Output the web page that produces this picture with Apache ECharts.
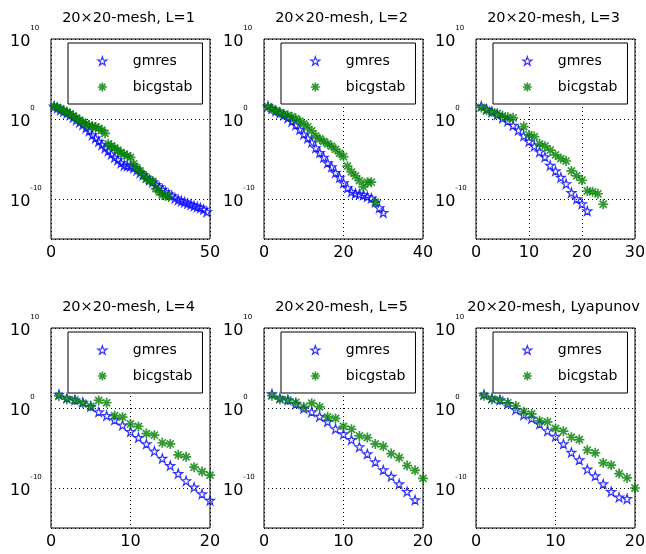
<!DOCTYPE html>
<html><head><meta charset="utf-8">
<script src="https://cdn.jsdelivr.net/npm/echarts@6/dist/echarts.min.js"></script>
<style>html,body{margin:0;padding:0;background:#fff}#c{width:646px;height:554px}</style>
</head><body><div id="c"></div>
<script>
// ---------- data ----------
const titles = ['20×20-mesh, L=1', '20×20-mesh, L=2', '20×20-mesh, L=3',
                '20×20-mesh, L=4', '20×20-mesh, L=5', '20×20-mesh, Lyapunov'];
const xMax = [50, 40, 30, 20, 20, 20];
const xTickStep = [50, 20, 10, 10, 10, 10];
const seriesNames = ['gmres', 'bicgstab'];

const gmresX_L1 = [1,2,3,4,5,6,7,8,9,10,11,12,13,14,15,16,17,18,19,20,21,22,23,24,25,26,27,28,29,30,31,32,33,34,35,36,37,38,39,40,41,42,43,44,45,46,47,48,49];
const gmresY_L1 = [4e1,2.5e1,1.4e1,8.9,5.6,3.2,1.6,7.9e-1,4e-1,2e-1,7.9e-2,3.2e-2,1e-2,4e-3,1.6e-3,6.3e-4,2.5e-4,1e-4,4e-5,1.6e-5,7.9e-6,3.2e-6,1.6e-6,1.4e-6,1.26e-6,7.9e-7,4e-7,2e-7,1e-7,5e-8,2.5e-8,1.26e-8,6.3e-9,3.2e-9,1.6e-9,7.9e-10,4e-10,2.5e-10,1.26e-10,7.9e-11,5.6e-11,4e-11,2.8e-11,2e-11,1.4e-11,1e-11,7.9e-12,5e-12,2.5e-12];
const bicgX_L1 = [1,2,3,4,5,6,7,8,9,10,11,12,13,14,15,16,17,18,19,20,21,22,23,24,25,26,27,28,29,30,31,32,33,34,35,36,37];
const bicgY_L1 = [4e1,2.8e1,1.8e1,1.1e1,7.1,4.5,2.5,1.4,7.1e-1,4e-1,2.5e-1,1.6e-1,1.26e-1,1e-1,6.3e-2,4e-2,1.6e-2,7.9e-4,4.5e-4,2.5e-4,1.26e-4,6.3e-5,4e-5,2.5e-5,1.6e-5,2.5e-6,7.9e-7,3.2e-7,1e-7,3.2e-8,2e-8,1.6e-8,2e-9,7.9e-10,3.2e-10,2.5e-10,2e-10];

const gmresX_L2 = [1,2,3,4,5,6,7,8,9,10,11,12,13,14,15,16,17,18,19,20,21,22,23,24,25,26,27,28,29,30];
const gmresY_L2 = [4e1,2e1,1e1,5.6,3.2,1.4,5e-1,1.8e-1,5e-2,1.26e-2,4e-3,1.26e-3,2.5e-4,6.3e-5,1.6e-5,3.2e-6,1e-6,2e-7,5e-8,1e-8,2.5e-9,7.9e-10,5e-10,4e-10,3.2e-10,2e-10,1.26e-10,4e-11,7.9e-12,2e-12];
const bicgX_L2 = [1,2,3,4,5,6,7,8,9,10,11,12,13,14,15,16,17,18,19,20,21,22,23,24,25,26,27,28];
const bicgY_L2 = [3.2e1,1.8e1,1e1,6.3,4,2.8,1.8,1.12,5.6e-1,2.5e-1,1e-1,3.2e-2,7.9e-3,3.2e-3,1.6e-3,7.9e-4,4e-4,1.6e-4,5e-5,2e-5,1.26e-6,2.5e-7,7.9e-8,2e-8,3.2e-9,1.26e-8,1.26e-8,4e-11];

const gmresX_L3 = [1,2,3,4,5,6,7,8,9,10,11,12,13,14,15,16,17,18,19,20,21];
const gmresY_L3 = [4e1,1.6e1,7.9,3.5,1.26,5.6e-1,1.6e-1,4e-2,7.9e-3,1.6e-3,4e-4,7.9e-5,1.8e-5,1.6e-6,3.2e-7,5e-8,7.9e-9,6.3e-10,1e-10,2.5e-11,3.2e-12];
const bicgX_L3 = [1,2,3,4,5,6,7,9,10,11,12,13,14,15,16,17,18,19,20,21,22,23,24];
const bicgY_L3 = [2.8e1,1.26e1,7.9,5,2.5,1.6,1.4,1.12e-1,1e-2,6.3e-3,7.9e-4,4e-4,1.26e-4,3.2e-5,1.12e-5,5.6e-6,3.2e-7,7.9e-8,2.2e-8,1e-9,7.9e-10,4.5e-10,2.2e-11];

const gmresX_L4 = [1,2,3,4,5,6,7,8,9,10,11,12,13,14,15,16,17,18,19,20];
const gmresY_L4 = [5e1,1.8e1,1e1,5,1.6,3.2e-1,1.12e-1,3.2e-2,7.1e-3,1.12e-3,2e-4,3.2e-5,4e-6,5e-7,6.3e-8,6.3e-9,7.9e-10,1.26e-10,1.8e-11,2.8e-12];
const bicgX_L4 = [1,2,3,4,5,6,7,8,9,10,11,12,13,14,15,16,17,18,19,20];
const bicgY_L4 = [3.2e1,1.26e1,1e1,4,1.6,8.9,4.5,1.12e-1,7.1e-2,1e-2,5e-3,6.3e-4,4e-4,4.5e-5,3.2e-5,1.4e-6,7.9e-7,4e-8,1.12e-8,4e-9];

const gmresX_L5 = [1,2,3,4,5,6,7,8,9,10,11,12,13,14,15,16,17,18,19];
const gmresY_L5 = [5.6e1,1.8e1,1e1,3.2,8.9e-1,3.2e-1,8.9e-2,2e-2,2.5e-3,5.6e-4,1.12e-4,1.4e-5,1.8e-6,1.8e-7,1.8e-8,2.8e-9,3.2e-10,3.5e-11,3.2e-12];
const bicgX_L5 = [1,2,3,4,5,6,7,8,9,10,11,12,13,14,15,16,17,18,19,20];
const bicgY_L5 = [3.5e1,1.26e1,1e1,5,1.26,4,1.4,7.9e-2,5e-2,5e-3,2.2e-3,3.2e-4,2e-4,3.2e-5,1.6e-5,2e-6,6.3e-7,6.3e-8,1.6e-8,1.6e-9];

const gmresX_Ly = [1,2,3,4,5,6,7,8,9,10,11,12,13,14,15,16,17,18,19];
const gmresY_Ly = [5e1,1.8e1,1e1,3.5,6.3e-1,1.4e-1,5e-2,1e-2,1.4e-3,2.8e-4,3.2e-5,2.8e-6,3.2e-7,2.2e-8,3.2e-9,3.2e-10,3.5e-11,7.1e-12,4.5e-12];
const bicgX_Ly = [1,2,3,4,5,6,7,8,9,10,11,12,13,14,15,16,17,18,19,20];
const bicgY_Ly = [3.5e1,1.26e1,1e1,4.5,1.8,3.5e-1,1.8e-1,2.5e-2,1.8e-2,2.8e-3,1.26e-3,2.2e-4,1.12e-4,5.6e-6,2.5e-6,1.4e-7,7.1e-8,6.3e-9,1.8e-9,1e-10];

const gmresXs = [gmresX_L1, gmresX_L2, gmresX_L3, gmresX_L4, gmresX_L5, gmresX_Ly];
const gmresYs = [gmresY_L1, gmresY_L2, gmresY_L3, gmresY_L4, gmresY_L5, gmresY_Ly];
const bicgXs = [bicgX_L1, bicgX_L2, bicgX_L3, bicgX_L4, bicgX_L5, bicgX_Ly];
const bicgYs = [bicgY_L1, bicgY_L2, bicgY_L3, bicgY_L4, bicgY_L5, bicgY_Ly];

// ---------- layout / style ----------
const FONT = 'DejaVu Sans';
const gridLefts = [51, 264, 476];
const gridTops = [39, 328];
const GW = 159, GH = 200;
const starPath = 'path://M0,-10L2.245,-3.09L9.511,-3.09L3.633,1.18L5.878,8.09L0,3.82L-5.878,8.09L-3.633,1.18L-9.511,-3.09L-2.245,-3.09Z';
const astPath = 'path://M0,-10L0,10M-10,0L10,0M-7.07,-7.07L7.07,7.07M-7.07,7.07L7.07,-7.07';
const blueStyle = {color: 'rgba(255,255,255,0)', borderColor: '#0000ff', borderWidth: 1.2};
const greenStyle = {color: '#008000', borderColor: '#008000', borderWidth: 1.7};
const dotted = {color: '#000', width: 1, type: [1, 3]};

const grids = [], xAxes = [], yAxes = [], series = [], legends = [], graphics = [];
function zip(xs, ys) { return xs.map((x, i) => [x, ys[i]]); }

for (let k = 0; k < 6; k++) {
  const left = gridLefts[k % 3], top = gridTops[Math.floor(k / 3)];
  grids.push({left: left, top: top, width: GW, height: GH, show: true,
    borderColor: '#000', borderWidth: 1, backgroundColor: '#fff', containLabel: false, outerBoundsMode: 'none'});
  xAxes.push({type: 'value', gridIndex: k, min: 0, max: xMax[k], interval: xTickStep[k],
    axisLine: {show: false}, axisTick: {show: false},
    splitLine: {show: true, lineStyle: dotted},
    axisLabel: {fontFamily: FONT, fontSize: 16, color: '#000', margin: 6}});
  yAxes.push({type: 'log', logBase: 1e10, gridIndex: k, min: 1e-15, max: 1e10,
    axisLine: {show: false}, axisTick: {show: false},
    splitLine: {show: true, lineStyle: dotted},
    axisLabel: {align: 'left', margin: 41, padding: [6, 0, 0, 0],
      formatter: function (v) {
        const e = Math.round(Math.log10(v));
        if (e < -12) return '';
        return '{b|10}{e|' + e + '}';
      },
      rich: {
        b: {fontFamily: FONT, fontSize: 16, color: '#000', lineHeight: 16, verticalAlign: 'bottom'},
        e: {fontFamily: FONT, fontSize: 7, color: '#000', lineHeight: 8, padding: [0, 0, 18, 0], verticalAlign: 'bottom'}
      }}});
  series.push({type: 'scatter', name: seriesNames[0], xAxisIndex: k, yAxisIndex: k,
    symbol: starPath, symbolSize: 9, itemStyle: blueStyle, silent: true,
    data: zip(gmresXs[k], gmresYs[k])});
  series.push({type: 'scatter', name: seriesNames[1], xAxisIndex: k, yAxisIndex: k,
    symbol: astPath, symbolSize: 10, itemStyle: greenStyle, silent: true,
    data: zip(bicgXs[k], bicgYs[k])});
  legends.push({orient: 'vertical', align: 'left', left: left + 17, top: top + 4,
    itemWidth: 9, itemHeight: 9, itemGap: 12, padding: [11, 10, 10, 29],
    borderColor: '#000', borderWidth: 1, backgroundColor: '#fff', selectedMode: false,
    formatter: function (name) { return '{s|}{t|' + name + '}'; },
    textStyle: {fontFamily: FONT, fontSize: 14, color: '#000',
      rich: {s: {width: 21}, t: {fontFamily: FONT, fontSize: 14, color: '#000'}}},
    data: [{name: seriesNames[0], icon: starPath, itemStyle: blueStyle},
           {name: seriesNames[1], icon: astPath, itemStyle: greenStyle}]});
  graphics.push({type: 'text', x: left + GW / 2 - 2, y: top - 21,
    style: {text: titles[k], fontFamily: FONT, fontSize: 14.5, fill: '#000', align: 'center', verticalAlign: 'middle'}});
}

const chart = echarts.init(document.getElementById('c'), null, {renderer: 'canvas'});
chart.setOption({
  backgroundColor: '#fff',
  animation: false,
  grid: grids, xAxis: xAxes, yAxis: yAxes, series: series, legend: legends,
  graphic: graphics
});
</script></body></html>
